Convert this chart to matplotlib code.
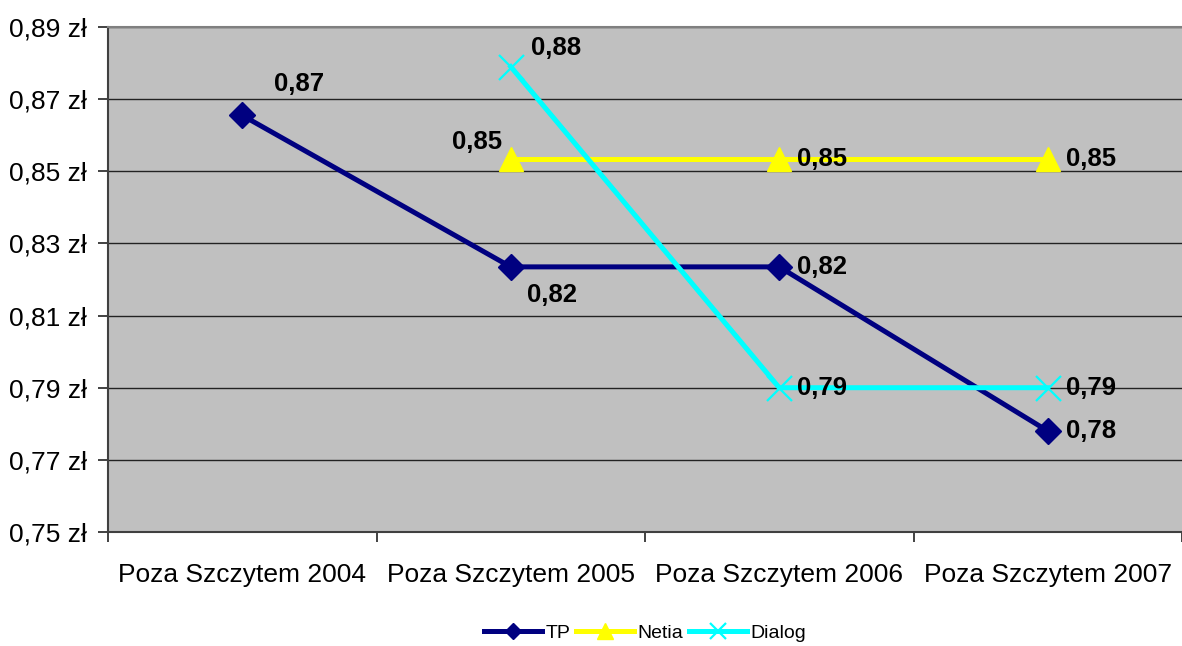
import numpy as np
import matplotlib
matplotlib.use("Agg")
import matplotlib.pyplot as plt

plt.rcParams['font.family'] = ['Liberation Sans', 'DejaVu Sans']

# ── data ──────────────────────────────────────────────────────────
categories = ["Poza Szczytem 2004", "Poza Szczytem 2005",
              "Poza Szczytem 2006", "Poza Szczytem 2007"]
tp     = [0.8655, 0.8235, 0.8235, 0.778]
netia  = [np.nan, 0.8534, 0.8534, 0.8534]
dialog = [np.nan, 0.879, 0.790, 0.790]

yticks = [0.75, 0.77, 0.79, 0.81, 0.83, 0.85, 0.87, 0.89]

def pln(v):
    return f"{v:.2f}".replace(".", ",")

fig = plt.figure(figsize=(11.82, 6.46), dpi=100)
ax = fig.add_axes([108/1182, 1 - 532/646, 1 - 108/1182, (532 - 27)/646])
ax.set_facecolor('#C0C0C0')

x = np.arange(len(categories))
ax.plot(x, tp, color='#000080', lw=3.6, marker='D', ms=13, label='TP', zorder=4)
ax.plot(x, netia, color='#FFFF00', lw=3.6, marker='^', ms=17, label='Netia', zorder=3)
ax.plot(x, dialog, color='#00FFFF', lw=3.6, marker='x', ms=18, mew=1.6,
        label='Dialog', zorder=5)

# data labels (offsets in pixels)
lab = dict(textcoords='offset pixels', fontsize=18.5, fontweight='bold',
           va='center', ha='left', zorder=6)
tp_off = [(32, 31), (16, -28), (18, 0), (18, 0)]
for xi, v, off in zip(x, tp, tp_off):
    ax.annotate(pln(v), (xi, v), xytext=off, **lab)
net_off = [None, (-59, 17), (18, 0), (18, 0)]
for xi, v, off in zip(x, netia, net_off):
    if off is not None:
        ax.annotate(pln(v), (xi, v), xytext=off, **lab)
dia_off = [None, (20, 19), (18, 0), (18, 0)]
for xi, v, off in zip(x, dialog, dia_off):
    if off is not None:
        ax.annotate(pln(v), (xi, v), xytext=off, **lab)

ax.set_xlim(-0.5, len(categories) - 0.5)
ax.set_ylim(0.75, 0.89)
ax.set_yticks(yticks)
ax.set_yticklabels([pln(v) + " zł" for v in yticks], fontsize=19)
ax.yaxis.grid(True, color='#222222', lw=1.0)
ax.set_axisbelow(True)

ax.set_xticks(x)
ax.set_xticklabels(categories, fontsize=19)
ax.tick_params(axis='x', which='major', length=0, pad=22)
ax.set_xticks(np.arange(-0.5, len(categories), 1.0), minor=True)
ax.tick_params(axis='x', which='minor', length=7, width=1.2, color='#222222',
               direction='out')
ax.tick_params(axis='y', length=7, width=1.2, color='#222222', pad=8)

for side in ['left', 'bottom']:
    ax.spines[side].set_color('#404040')
    ax.spines[side].set_linewidth(1.5)
ax.spines['top'].set_color('#808080')
ax.spines['top'].set_linewidth(1.5)
ax.spines['right'].set_visible(False)

leg = fig.legend(loc='center', bbox_to_anchor=(645/1182, 1 - 633/646), ncol=3,
                 frameon=False, fontsize=14, handlelength=3.0,
                 handletextpad=0.15, columnspacing=0.3, markerscale=0.65)

fig.savefig("out.png", dpi=100)
